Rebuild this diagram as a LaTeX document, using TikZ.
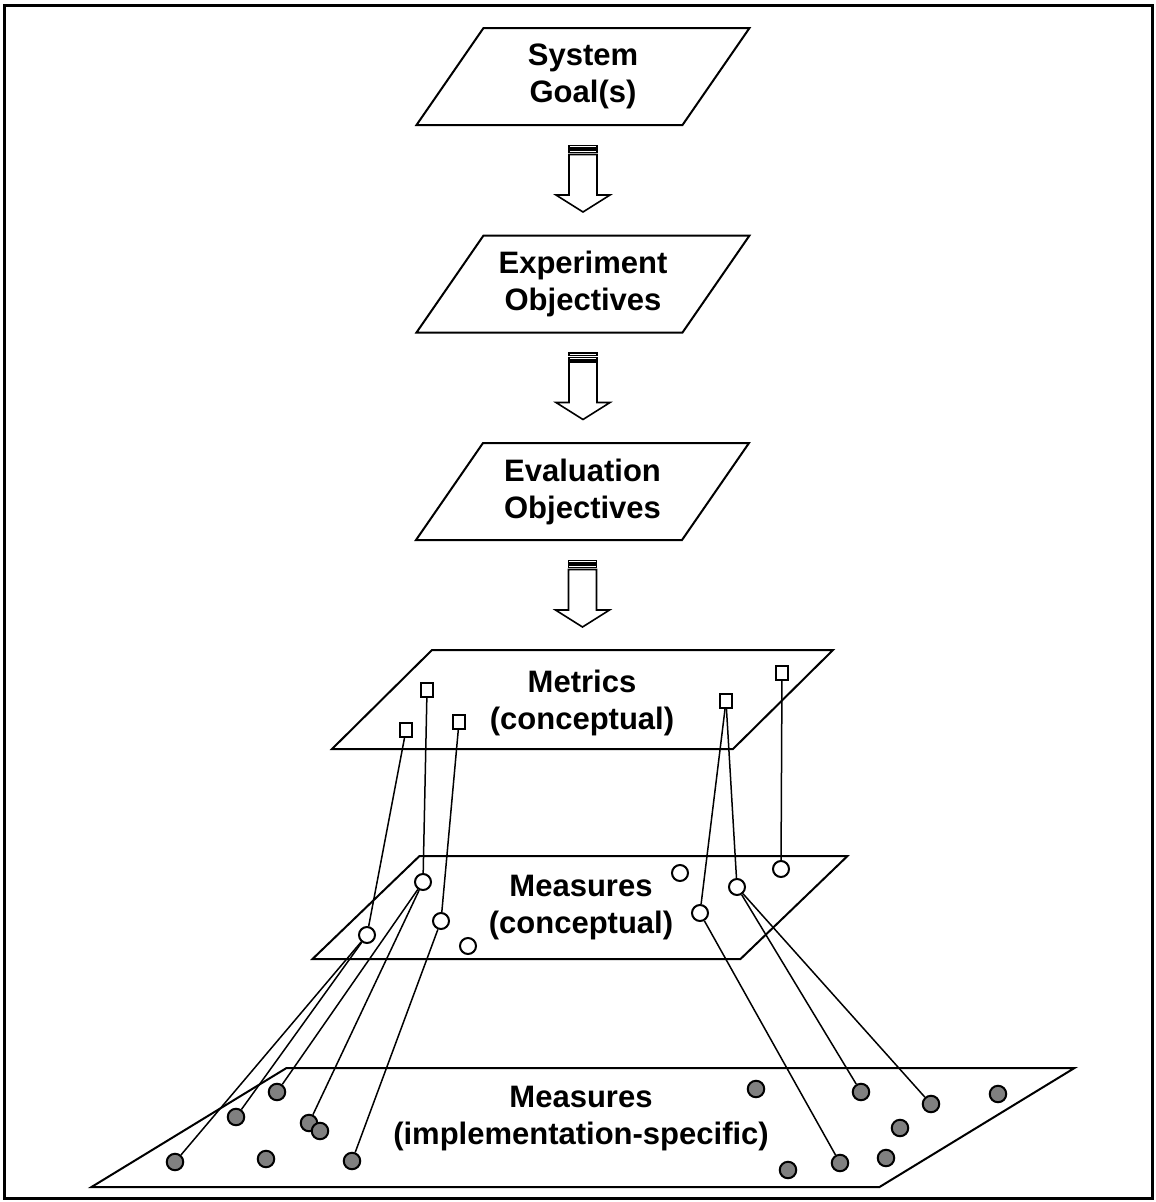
\documentclass[tikz,border=0pt]{standalone}
\usepackage{fontspec}
\setmainfont{Liberation Sans}
\usetikzlibrary{calc}

\definecolor{dotgray}{gray}{0.5}

\tikzset{
    boxtext/.style={font=\bfseries\fontsize{31}{37}\selectfont, align=center, inner sep=0pt},
    slab/.style={line width=2pt},
    metric/.style={draw, fill=white, line width=1.6pt, minimum width=12pt, minimum height=14pt, inner sep=0pt},
    cmeasure/.style={circle, draw, fill=white, line width=2pt, minimum size=16pt, inner sep=0pt},
    imeasure/.style={circle, draw, fill=dotgray, line width=2pt, minimum size=16.5pt, inner sep=0pt},
    wire/.style={line width=1.5pt},
    stripedarrow/.pic={
        \draw[line width=1.2pt] (-14,0) rectangle (14,2.5);
        \draw[line width=1.2pt] (-14,4.5) rectangle (14,7);
        \draw[line width=1.6pt, fill=white] (-14,9) -- (14,9) -- (14,49.5) -- (27,49.5)
            -- (0,66.5) -- (-27,49.5) -- (-14,49.5) -- cycle;
    }
}

% parallelogram: centre x, centre y, half width, half height, half slant
\newcommand{\slab}[5]{%
    \draw[slab] (#1-#3-#5,#2+#4) -- (#1+#3-#5,#2+#4) -- (#1+#3+#5,#2-#4) -- (#1-#3+#5,#2-#4) -- cycle;}

\begin{document}
\begin{tikzpicture}[x=1pt, y=-1pt]
    \useasboundingbox (0,0) rectangle (1156,1202);

    % Frame
    \draw[line width=3pt] (4,5) rectangle (1152,1198);

    % Goal chain
    \slab{583}{76.5}{133}{48.5}{33.5}
    \slab{583}{284}{133}{48.5}{33.5}
    \slab{582.5}{491.5}{133}{48.5}{33.5}
    \node[boxtext] (goal) at (583,76.5) {System\\Goal(s)};
    \node[boxtext] (exp) at (583,284) {Experiment\\Objectives};
    \node[boxtext] (eval) at (582.5,491.5) {Evaluation\\Objectives};

    % Block arrows
    \foreach \n in {goal, exp, eval} {
        \pic at ($(\n)+(0,69)$) {stripedarrow};
    }

    % Planes
    \slab{582.5}{699.5}{200.5}{49.5}{50}
    \slab{580}{907.5}{214}{51.5}{53.5}
    \slab{583}{1127.5}{394}{59.5}{97.5}
    \node[boxtext] (metrics) at (582,703) {Metrics\\(conceptual)};
    \node[boxtext] (cmeas) at (581,907.5) {Measures\\(conceptual)};
    \node[boxtext] (imeas) at (581,1119) {Measures\\(implementation-specific)};

    % Metrics
    \foreach \name/\x/\y in {mt1/406/730, mt2/427/690, mt3/459/722, mt4/726/701, mt5/782/673} {
        \node[metric] (\name) at (\x,\y) {};
    }

    % Conceptual measures
    \foreach \name/\x/\y in {cm1/367/935, cm2/423/882, cm3/441/921, cm4/468/946,
                             cm5/680/873, cm6/700/913, cm7/737/887, cm8/781/869} {
        \node[cmeasure] (\name) at (\x,\y) {};
    }

    % Implementation-specific measures
    \foreach \name/\x/\y in {im1/175/1162, im2/236/1117, im3/277/1092, im4/266/1159,
                             im5/309/1123, im6/320/1131, im7/352/1161, im8/756/1089,
                             im9/788/1170, im10/840/1163, im11/861/1092, im12/886/1158,
                             im13/900/1128, im14/931/1104, im15/998/1094} {
        \node[imeasure] (\name) at (\x,\y) {};
    }

    % Links
    \foreach \a/\b in {mt1/cm1, mt2/cm2, mt3/cm3, mt4/cm6, mt4/cm7, mt5/cm8,
                       cm1/im1, cm1/im2, cm2/im3, cm2/im5, cm3/im7,
                       cm6/im10, cm7/im11, cm7/im14} {
        \draw[wire] (\a) -- (\b);
    }
\end{tikzpicture}
\end{document}
